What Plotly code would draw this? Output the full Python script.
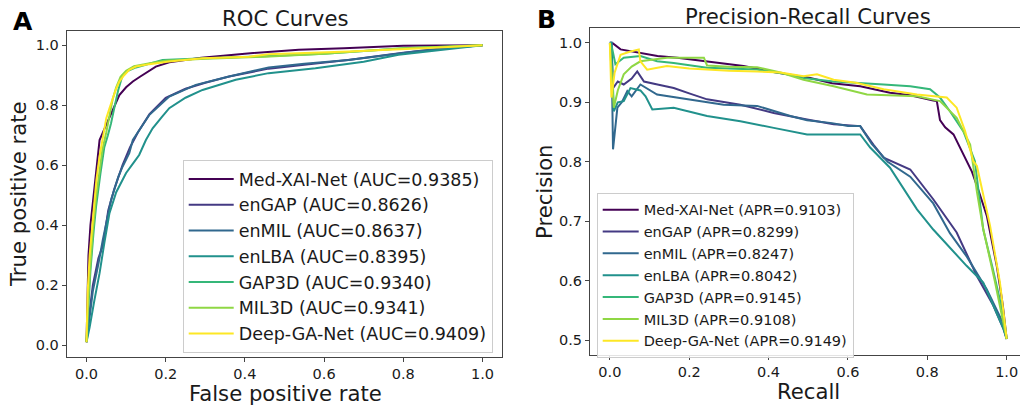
import plotly.graph_objects as go

# ---------------- data ----------------
models = ["Med-XAI-Net", "enGAP", "enMIL", "enLBA", "GAP3D", "MIL3D", "Deep-GA-Net"]
colors = ["#440154", "#443a83", "#31688e", "#21918c", "#35b779", "#8fd744", "#fde725"]
auc = ["0.9385", "0.8626", "0.8637", "0.8395", "0.9340", "0.9341", "0.9409"]
apr = ["0.9103", "0.8299", "0.8247", "0.8042", "0.9145", "0.9108", "0.9149"]

# ROC curves (false positive rate, true positive rate)
fpr_medxai = [0, 0.002, 0.005, 0.010, 0.016, 0.025, 0.033, 0.045, 0.058, 0.066, 0.083, 0.100, 0.117, 0.135, 0.150, 0.175, 0.209, 0.29, 0.40, 0.536, 0.65, 0.80, 1.0]
tpr_medxai = [0.01, 0.15, 0.30, 0.40, 0.47, 0.58, 0.684, 0.72, 0.76, 0.785, 0.834, 0.86, 0.879, 0.895, 0.907, 0.929, 0.943, 0.958, 0.972, 0.985, 0.99, 0.998, 1.0]

fpr_engap = [0, 0.005, 0.016, 0.030, 0.041, 0.055, 0.070, 0.091, 0.110, 0.130, 0.159, 0.20, 0.25, 0.30, 0.36, 0.46, 0.55, 0.66, 0.80, 0.90, 1.0]
tpr_engap = [0.01, 0.08, 0.20, 0.29, 0.33, 0.45, 0.52, 0.60, 0.66, 0.71, 0.77, 0.825, 0.855, 0.875, 0.896, 0.922, 0.935, 0.951, 0.975, 0.99, 1.0]

fpr_enmil = [0, 0.008, 0.016, 0.030, 0.041, 0.062, 0.080, 0.091, 0.108, 0.117, 0.135, 0.159, 0.209, 0.276, 0.36, 0.46, 0.55, 0.662, 0.83, 0.92, 1.0]
tpr_enmil = [0.01, 0.10, 0.18, 0.27, 0.35, 0.484, 0.56, 0.595, 0.64, 0.684, 0.72, 0.768, 0.829, 0.868, 0.896, 0.926, 0.938, 0.951, 0.979, 0.992, 1.0]

fpr_enlba = [0, 0.008, 0.020, 0.033, 0.045, 0.058, 0.075, 0.10, 0.12, 0.133, 0.15, 0.167, 0.19, 0.209, 0.25, 0.293, 0.377, 0.46, 0.578, 0.70, 0.788, 0.90, 1.0]
tpr_enlba = [0.01, 0.06, 0.15, 0.24, 0.34, 0.44, 0.51, 0.574, 0.61, 0.634, 0.684, 0.723, 0.76, 0.79, 0.825, 0.851, 0.885, 0.907, 0.923, 0.945, 0.968, 0.985, 1.0]

fpr_gap3d = [0, 0.004, 0.010, 0.018, 0.024, 0.035, 0.045, 0.054, 0.062, 0.070, 0.080, 0.091, 0.105, 0.125, 0.16, 0.192, 0.30, 0.45, 0.60, 0.80, 1.0]
tpr_gap3d = [0.01, 0.12, 0.25, 0.38, 0.46, 0.57, 0.66, 0.70, 0.74, 0.79, 0.85, 0.90, 0.915, 0.926, 0.94, 0.951, 0.957, 0.963, 0.972, 0.99, 1.0]

fpr_mil3d = [0, 0.004, 0.010, 0.016, 0.024, 0.032, 0.040, 0.050, 0.058, 0.066, 0.075, 0.086, 0.100, 0.120, 0.16, 0.20, 0.30, 0.45, 0.60, 0.80, 1.0]
tpr_mil3d = [0.01, 0.14, 0.27, 0.38, 0.49, 0.58, 0.65, 0.71, 0.77, 0.82, 0.86, 0.895, 0.915, 0.93, 0.94, 0.948, 0.955, 0.962, 0.972, 0.99, 1.0]

fpr_deepga = [0, 0.003, 0.008, 0.016, 0.025, 0.033, 0.041, 0.050, 0.058, 0.066, 0.075, 0.083, 0.095, 0.108, 0.125, 0.159, 0.209, 0.293, 0.41, 0.46, 0.662, 0.85, 1.0]
tpr_deepga = [0.01, 0.18, 0.30, 0.43, 0.55, 0.63, 0.684, 0.757, 0.79, 0.823, 0.855, 0.879, 0.90, 0.918, 0.929, 0.937, 0.946, 0.957, 0.962, 0.970, 0.979, 0.99, 1.0]

# Precision-recall curves (recall, precision)
rec_medxai = [0, 0.004, 0.008, 0.027, 0.06, 0.12, 0.17, 0.25, 0.337, 0.42, 0.505, 0.56, 0.631, 0.706, 0.757, 0.815, 0.824, 0.832, 0.845, 0.866, 0.891, 0.912, 0.93, 0.950, 0.975, 0.99, 1.0]
pre_medxai = [1.0, 1.0, 0.999, 0.989, 0.985, 0.978, 0.975, 0.968, 0.961, 0.95, 0.941, 0.932, 0.927, 0.916, 0.912, 0.903, 0.902, 0.870, 0.858, 0.846, 0.812, 0.784, 0.75, 0.709, 0.625, 0.56, 0.502]

rec_engap = [0, 0.004, 0.008, 0.02, 0.035, 0.055, 0.069, 0.086, 0.12, 0.161, 0.2, 0.245, 0.329, 0.413, 0.497, 0.564, 0.631, 0.664, 0.69, 0.715, 0.757, 0.815, 0.874, 0.925, 0.965, 0.992, 1.0]
pre_engap = [1.0, 1.0, 0.924, 0.935, 0.930, 0.94, 0.952, 0.935, 0.93, 0.924, 0.915, 0.905, 0.896, 0.882, 0.871, 0.863, 0.860, 0.829, 0.807, 0.80, 0.787, 0.737, 0.681, 0.608, 0.56, 0.519, 0.502]

rec_enmil = [0, 0.004, 0.008, 0.019, 0.03, 0.044, 0.055, 0.077, 0.119, 0.203, 0.287, 0.371, 0.455, 0.497, 0.56, 0.60, 0.631, 0.66, 0.70, 0.757, 0.815, 0.857, 0.90, 0.95, 0.99, 1.0]
pre_enmil = [1.0, 1.0, 0.821, 0.891, 0.90, 0.919, 0.91, 0.930, 0.913, 0.905, 0.896, 0.894, 0.877, 0.87, 0.865, 0.86, 0.86, 0.83, 0.80, 0.775, 0.73, 0.68, 0.64, 0.585, 0.53, 0.502]

rec_enlba = [0, 0.004, 0.01, 0.02, 0.035, 0.052, 0.077, 0.09, 0.107, 0.161, 0.245, 0.329, 0.413, 0.497, 0.55, 0.631, 0.656, 0.706, 0.774, 0.815, 0.899, 0.941, 0.992, 1.0]
pre_enlba = [1.0, 1.0, 0.885, 0.90, 0.902, 0.924, 0.92, 0.91, 0.888, 0.891, 0.877, 0.868, 0.857, 0.846, 0.846, 0.846, 0.824, 0.79, 0.72, 0.686, 0.625, 0.597, 0.519, 0.502]

rec_gap3d = [0, 0.006, 0.014, 0.035, 0.077, 0.119, 0.161, 0.245, 0.371, 0.45, 0.488, 0.564, 0.69, 0.757, 0.807, 0.832, 0.857, 0.891, 0.92, 0.941, 0.965, 0.992, 1.0]
pre_gap3d = [1.0, 0.99, 0.964, 0.975, 0.978, 0.969, 0.966, 0.958, 0.955, 0.947, 0.941, 0.935, 0.930, 0.927, 0.922, 0.908, 0.885, 0.851, 0.801, 0.686, 0.62, 0.541, 0.502]

rec_mil3d = [0, 0.005, 0.010, 0.02, 0.035, 0.055, 0.077, 0.11, 0.144, 0.2, 0.237, 0.245, 0.30, 0.371, 0.43, 0.488, 0.564, 0.648, 0.774, 0.832, 0.874, 0.908, 0.925, 0.94, 0.97, 1.0]
pre_mil3d = [1.0, 0.95, 0.891, 0.92, 0.947, 0.96, 0.969, 0.972, 0.975, 0.975, 0.975, 0.962, 0.96, 0.959, 0.95, 0.938, 0.927, 0.913, 0.910, 0.902, 0.874, 0.829, 0.75, 0.69, 0.60, 0.502]

rec_deepga = [0, 0.004, 0.012, 0.027, 0.05, 0.073, 0.077, 0.094, 0.12, 0.144, 0.2, 0.245, 0.30, 0.371, 0.43, 0.488, 0.522, 0.564, 0.62, 0.69, 0.774, 0.849, 0.874, 0.895, 0.916, 0.925, 0.958, 0.983, 1.0]
pre_deepga = [1.0, 0.908, 0.95, 0.98, 0.985, 0.989, 0.969, 0.955, 0.958, 0.961, 0.957, 0.955, 0.953, 0.952, 0.95, 0.944, 0.947, 0.938, 0.933, 0.922, 0.913, 0.908, 0.891, 0.852, 0.801, 0.793, 0.693, 0.597, 0.502]

roc_x = [fpr_medxai, fpr_engap, fpr_enmil, fpr_enlba, fpr_gap3d, fpr_mil3d, fpr_deepga]
roc_y = [tpr_medxai, tpr_engap, tpr_enmil, tpr_enlba, tpr_gap3d, tpr_mil3d, tpr_deepga]
pr_x = [rec_medxai, rec_engap, rec_enmil, rec_enlba, rec_gap3d, rec_mil3d, rec_deepga]
pr_y = [pre_medxai, pre_engap, pre_enmil, pre_enlba, pre_gap3d, pre_mil3d, pre_deepga]

ticks_roc = [0.0, 0.2, 0.4, 0.6, 0.8, 1.0]
ticks_pr_y = [0.5, 0.6, 0.7, 0.8, 0.9, 1.0]

# ---------------- figure ----------------
W, H = 1020, 407
FONT = "DejaVu Sans"
TXT = "#1a1a1a"
AX = "#444444"

fig = go.Figure()

for i, m in enumerate(models):
    fig.add_trace(go.Scatter(
        x=roc_x[i], y=roc_y[i], mode="lines", name=f"{m} (AUC={auc[i]})",
        line=dict(color=colors[i], width=2), xaxis="x", yaxis="y", legend="legend"))
for i, m in enumerate(models):
    fig.add_trace(go.Scatter(
        x=pr_x[i], y=pr_y[i], mode="lines", name=f"{m} (APR={apr[i]})",
        line=dict(color=colors[i], width=2), xaxis="x2", yaxis="y2", legend="legend2"))

def px_x(p):
    return p / W

def px_y(p):
    return (H - p) / H

axis_common = dict(showgrid=False, zeroline=False, showline=True, linecolor=AX, linewidth=1,
                   ticks="outside", ticklen=4, tickcolor=AX, tickwidth=1,
                   tickfont=dict(family=FONT, size=14.5, color=TXT), tickformat=".1f")

fig.update_layout(
    width=W, height=H, margin=dict(l=0, r=0, t=0, b=0),
    paper_bgcolor="white", plot_bgcolor="white",
    font=dict(family=FONT, color=TXT),
    xaxis=dict(domain=[px_x(66.7), px_x(502.3)], range=[-0.05, 1.05], tickvals=ticks_roc,
               mirror=True, anchor="y", **axis_common),
    yaxis=dict(domain=[px_y(356.7), px_y(30.7)], range=[-0.0385, 1.0485], tickvals=ticks_roc,
               mirror=True, anchor="x", **axis_common),
    xaxis2=dict(domain=[px_x(590), 1.0], range=[-0.05, 1.0336], tickvals=ticks_roc,
                mirror=True, anchor="y2", **axis_common),
    yaxis2=dict(domain=[px_y(355), px_y(28)], range=[0.475, 1.025], tickvals=ticks_pr_y,
                mirror=False, anchor="x2", **axis_common),
    legend=dict(x=px_x(182.7), y=px_y(160), xanchor="left", yanchor="top",
                bgcolor="rgba(255,255,255,0.85)", bordercolor="#cccccc", borderwidth=1,
                font=dict(family=FONT, size=17.5, color=TXT), itemwidth=45,
                tracegroupgap=0),
    legend2=dict(x=px_x(596.7), y=px_y(192.7), xanchor="left", yanchor="top",
                 bgcolor="rgba(255,255,255,0.85)", bordercolor="#cccccc", borderwidth=1,
                 font=dict(family=FONT, size=14.5, color=TXT), itemwidth=36,
                 tracegroupgap=0),
    showlegend=True,
)

def ann(text, x, y, size, bold=False, angle=0):
    fig.add_annotation(text=f"<b>{text}</b>" if bold else text, x=px_x(x), y=px_y(y),
                       xref="paper", yref="paper", xanchor="center", yanchor="middle",
                       showarrow=False, textangle=angle,
                       font=dict(family=FONT, size=size, color="black" if bold else TXT))

ann("ROC Curves", 285, 18, 21.2)
ann("Precision-Recall Curves", 808, 17, 21.2)
ann("A", 23, 21, 25, bold=True)
ann("B", 546, 20, 25, bold=True)
ann("False positive rate", 285, 393, 21.2)
ann("Recall", 808.5, 391, 21.2)
ann("True positive rate", 19, 194, 21.2, angle=-90)
ann("Precision", 544.5, 191.5, 21.2, angle=-90)

fig.write_html(
    "out.html",
    config={"displayModeBar": False},
    post_script="document.body.style.margin='0';document.body.style.padding='0';"
                "document.body.style.overflow='hidden';",
)
